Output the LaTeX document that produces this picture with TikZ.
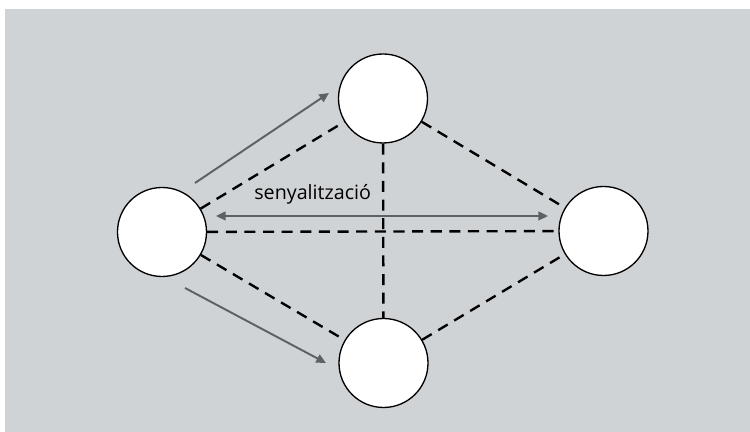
\documentclass[tikz,border=0pt]{standalone}
\usepackage{fontspec}
\setmainfont{Open Sans}
\usepackage{xcolor}
\usetikzlibrary{arrows.meta}
\definecolor{bggray}{RGB}{207,211,214}
\definecolor{arrgray}{RGB}{92,97,102}

\begin{document}
\begin{tikzpicture}[site/.style={circle, draw, fill=white, line width=0.75pt,
	minimum size=1.78cm, inner sep=0pt},
	link/.style={line width=1.35pt, dash pattern=on 6.3pt off 4.3pt},
	tip/.style={Triangle[length=5.5pt,width=5pt]},
	msg/.style={draw=arrgray, line width=1.1pt, -{Triangle[length=5.5pt,width=5pt]}}]

\useasboundingbox (0,0) rectangle (15,8.64);
\fill[bggray] (0.1,0) rectangle (15,8.46);

\node[site] (A) at (3.24,4.00) {};
\node[site] (B) at (7.66,6.67) {};
\node[site] (C) at (12.07,4.02) {};
\node[site] (D) at (7.67,1.38) {};

\draw[link] (A) -- (B);
\draw[link] (A) -- (C);
\draw[link] (A) -- (D);
\draw[link] (B) -- (C);
\draw[link] (B) -- (D);
\draw[link] (D) -- (C);

\coordinate (a1) at (3.90,4.98);
\coordinate (a2) at (6.58,6.78);
\coordinate (b1) at (3.70,2.88);
\coordinate (b2) at (6.52,1.38);
\coordinate (s1) at (4.32,4.32);
\coordinate (s2) at (10.96,4.32);
\draw[msg] (a1) -- (a2);
\draw[msg] (b1) -- (b2);
\draw[msg, {Triangle[length=5.5pt,width=5pt]}-{Triangle[length=5.5pt,width=5pt]}] (s1) -- (s2);

\node[anchor=base west, inner sep=0pt, font=\fontsize{11.2}{13}\selectfont] (lbl) at (5.08,4.64) {senyalització};
\end{tikzpicture}
\end{document}
